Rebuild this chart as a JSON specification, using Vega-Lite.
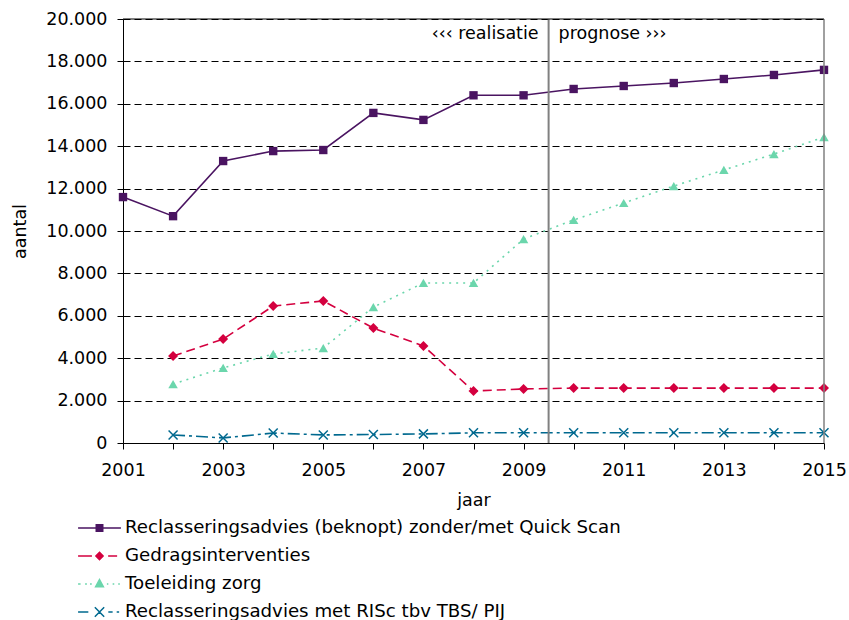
{
  "$schema": "https://vega.github.io/schema/vega-lite/v6.json",
  "width": 701,
  "height": 424,
  "autosize": {"type": "none"},
  "padding": {"left": 123, "top": 19, "right": 25, "bottom": 177},
  "background": "white",
  "config": {
    "font": "DejaVu Sans",
    "view": {"stroke": null},
    "axis": {"labelFont": "DejaVu Sans", "titleFont": "DejaVu Sans", "labelFontSize": 17.5, "titleFontSize": 17.5, "titleFontWeight": "normal", "labelColor": "#000", "titleColor": "#000", "domainColor": "#000", "tickColor": "#000"},
    "legend": {"labelFont": "DejaVu Sans", "labelFontSize": 18.2, "labelColor": "#000", "orient": "none", "legendX": -42.5, "legendY": 490, "padding": 0, "symbolSize": 1296, "symbolStrokeWidth": 1.5, "symbolOpacity": 1, "rowPadding": 0, "labelLimit": 800, "labelOffset": 6.5}
  },
  "data": {"values": [
    {"jaar": 2001, "reeks": "Reclasseringsadvies (beknopt) zonder/met Quick Scan", "aantal": 11600},
    {"jaar": 2002, "reeks": "Reclasseringsadvies (beknopt) zonder/met Quick Scan", "aantal": 10700},
    {"jaar": 2003, "reeks": "Reclasseringsadvies (beknopt) zonder/met Quick Scan", "aantal": 13300},
    {"jaar": 2004, "reeks": "Reclasseringsadvies (beknopt) zonder/met Quick Scan", "aantal": 13770},
    {"jaar": 2005, "reeks": "Reclasseringsadvies (beknopt) zonder/met Quick Scan", "aantal": 13820},
    {"jaar": 2006, "reeks": "Reclasseringsadvies (beknopt) zonder/met Quick Scan", "aantal": 15570},
    {"jaar": 2007, "reeks": "Reclasseringsadvies (beknopt) zonder/met Quick Scan", "aantal": 15240},
    {"jaar": 2008, "reeks": "Reclasseringsadvies (beknopt) zonder/met Quick Scan", "aantal": 16400},
    {"jaar": 2009, "reeks": "Reclasseringsadvies (beknopt) zonder/met Quick Scan", "aantal": 16400},
    {"jaar": 2010, "reeks": "Reclasseringsadvies (beknopt) zonder/met Quick Scan", "aantal": 16700},
    {"jaar": 2011, "reeks": "Reclasseringsadvies (beknopt) zonder/met Quick Scan", "aantal": 16840},
    {"jaar": 2012, "reeks": "Reclasseringsadvies (beknopt) zonder/met Quick Scan", "aantal": 16980},
    {"jaar": 2013, "reeks": "Reclasseringsadvies (beknopt) zonder/met Quick Scan", "aantal": 17170},
    {"jaar": 2014, "reeks": "Reclasseringsadvies (beknopt) zonder/met Quick Scan", "aantal": 17360},
    {"jaar": 2015, "reeks": "Reclasseringsadvies (beknopt) zonder/met Quick Scan", "aantal": 17600},
    {"jaar": 2002, "reeks": "Gedragsinterventies", "aantal": 4100},
    {"jaar": 2003, "reeks": "Gedragsinterventies", "aantal": 4900},
    {"jaar": 2004, "reeks": "Gedragsinterventies", "aantal": 6460},
    {"jaar": 2005, "reeks": "Gedragsinterventies", "aantal": 6700},
    {"jaar": 2006, "reeks": "Gedragsinterventies", "aantal": 5420},
    {"jaar": 2007, "reeks": "Gedragsinterventies", "aantal": 4580},
    {"jaar": 2008, "reeks": "Gedragsinterventies", "aantal": 2450},
    {"jaar": 2009, "reeks": "Gedragsinterventies", "aantal": 2550},
    {"jaar": 2010, "reeks": "Gedragsinterventies", "aantal": 2590},
    {"jaar": 2011, "reeks": "Gedragsinterventies", "aantal": 2590},
    {"jaar": 2012, "reeks": "Gedragsinterventies", "aantal": 2590},
    {"jaar": 2013, "reeks": "Gedragsinterventies", "aantal": 2590},
    {"jaar": 2014, "reeks": "Gedragsinterventies", "aantal": 2590},
    {"jaar": 2015, "reeks": "Gedragsinterventies", "aantal": 2590},
    {"jaar": 2002, "reeks": "Toeleiding zorg", "aantal": 2780},
    {"jaar": 2003, "reeks": "Toeleiding zorg", "aantal": 3540},
    {"jaar": 2004, "reeks": "Toeleiding zorg", "aantal": 4200},
    {"jaar": 2005, "reeks": "Toeleiding zorg", "aantal": 4480},
    {"jaar": 2006, "reeks": "Toeleiding zorg", "aantal": 6410},
    {"jaar": 2007, "reeks": "Toeleiding zorg", "aantal": 7550},
    {"jaar": 2008, "reeks": "Toeleiding zorg", "aantal": 7550},
    {"jaar": 2009, "reeks": "Toeleiding zorg", "aantal": 9620},
    {"jaar": 2010, "reeks": "Toeleiding zorg", "aantal": 10520},
    {"jaar": 2011, "reeks": "Toeleiding zorg", "aantal": 11320},
    {"jaar": 2012, "reeks": "Toeleiding zorg", "aantal": 12120},
    {"jaar": 2013, "reeks": "Toeleiding zorg", "aantal": 12880},
    {"jaar": 2014, "reeks": "Toeleiding zorg", "aantal": 13630},
    {"jaar": 2015, "reeks": "Toeleiding zorg", "aantal": 14430},
    {"jaar": 2002, "reeks": "Reclasseringsadvies met RISc tbv TBS/ PIJ", "aantal": 380},
    {"jaar": 2003, "reeks": "Reclasseringsadvies met RISc tbv TBS/ PIJ", "aantal": 240},
    {"jaar": 2004, "reeks": "Reclasseringsadvies met RISc tbv TBS/ PIJ", "aantal": 470},
    {"jaar": 2005, "reeks": "Reclasseringsadvies met RISc tbv TBS/ PIJ", "aantal": 380},
    {"jaar": 2006, "reeks": "Reclasseringsadvies met RISc tbv TBS/ PIJ", "aantal": 400},
    {"jaar": 2007, "reeks": "Reclasseringsadvies met RISc tbv TBS/ PIJ", "aantal": 430},
    {"jaar": 2008, "reeks": "Reclasseringsadvies met RISc tbv TBS/ PIJ", "aantal": 480},
    {"jaar": 2009, "reeks": "Reclasseringsadvies met RISc tbv TBS/ PIJ", "aantal": 480},
    {"jaar": 2010, "reeks": "Reclasseringsadvies met RISc tbv TBS/ PIJ", "aantal": 480},
    {"jaar": 2011, "reeks": "Reclasseringsadvies met RISc tbv TBS/ PIJ", "aantal": 480},
    {"jaar": 2012, "reeks": "Reclasseringsadvies met RISc tbv TBS/ PIJ", "aantal": 480},
    {"jaar": 2013, "reeks": "Reclasseringsadvies met RISc tbv TBS/ PIJ", "aantal": 480},
    {"jaar": 2014, "reeks": "Reclasseringsadvies met RISc tbv TBS/ PIJ", "aantal": 480},
    {"jaar": 2015, "reeks": "Reclasseringsadvies met RISc tbv TBS/ PIJ", "aantal": 480}
  ]},
  "encoding": {
    "x": {"field": "jaar", "type": "quantitative", "scale": {"domain": [2001, 2015], "nice": false, "zero": false},
      "axis": {"title": "jaar", "values": [2001,2002,2003,2004,2005,2006,2007,2008,2009,2010,2011,2012,2013,2014,2015], "labelExpr": "datum.value % 2 == 1 ? datum.value : ''", "grid": false, "tickSize": 6, "labelPadding": 12, "titlePadding": 13, "labelFlush": false}},
    "y": {"field": "aantal", "type": "quantitative", "scale": {"domain": [0, 20000], "nice": false},
      "axis": {"title": "aantal", "values": [0,2000,4000,6000,8000,10000,12000,14000,16000,18000,20000], "labelExpr": "replace(format(datum.value, ','), ',', '.')", "grid": true, "gridColor": "#000", "gridDash": [7, 4], "gridOpacity": 1, "tickSize": 6, "labelPadding": 10, "titlePadding": 16}}
  },
  "layer": [
    {
      "transform": [{"filter": "datum.reeks == 'Reclasseringsadvies (beknopt) zonder/met Quick Scan'"}],
      "mark": {"type": "line", "strokeWidth": 1.6, "color": "#4A1461", "point": {"shape": "square", "filled": true, "size": 70, "color": "#4A1461", "opacity": 1}}
    },
    {
      "transform": [{"filter": "datum.reeks == 'Gedragsinterventies'"}],
      "mark": {"type": "line", "strokeWidth": 1.6, "color": "#D4003F", "strokeDash": [9, 5], "point": {"shape": "diamond", "filled": true, "size": 100, "color": "#D4003F", "opacity": 1}}
    },
    {
      "transform": [{"filter": "datum.reeks == 'Toeleiding zorg'"}],
      "mark": {"type": "line", "strokeWidth": 1.6, "color": "#6BD6AC", "strokeDash": [2, 5], "point": {"shape": "triangle-up", "filled": true, "size": 90, "color": "#6BD6AC", "opacity": 1}}
    },
    {
      "transform": [{"filter": "datum.reeks == 'Reclasseringsadvies met RISc tbv TBS/ PIJ'"}],
      "mark": {"type": "line", "strokeWidth": 1.6, "color": "#00698F", "strokeDash": [12, 4, 3, 4], "point": {"shape": "M-1,-1L1,1M-1,1L1,-1", "filled": false, "size": 81, "strokeWidth": 1.5, "color": "#00698F", "opacity": 1}}
    },
    {
      "transform": [{"filter": "datum.jaar > 3000"}],
      "mark": {"type": "point", "filled": true, "opacity": 1, "size": 1296, "strokeWidth": 1.5},
      "encoding": {
        "fill": {"field": "reeks", "type": "nominal",
          "scale": {"domain": ["Reclasseringsadvies (beknopt) zonder/met Quick Scan", "Gedragsinterventies", "Toeleiding zorg", "Reclasseringsadvies met RISc tbv TBS/ PIJ"], "range": ["#4A1461", "#D4003F", "#6BD6AC", "#00698F"]},
          "legend": {"title": null}},
        "stroke": {"field": "reeks", "type": "nominal",
          "scale": {"domain": ["Reclasseringsadvies (beknopt) zonder/met Quick Scan", "Gedragsinterventies", "Toeleiding zorg", "Reclasseringsadvies met RISc tbv TBS/ PIJ"], "range": ["#4A1461", "#D4003F", "#6BD6AC", "#00698F"]},
          "legend": {"title": null}},
        "shape": {"field": "reeks", "type": "nominal",
          "scale": {"domain": ["Reclasseringsadvies (beknopt) zonder/met Quick Scan", "Gedragsinterventies", "Toeleiding zorg", "Reclasseringsadvies met RISc tbv TBS/ PIJ"],
            "range": ["M-1.19,0H1.19M-0.18,-0.18H0.18V0.18H-0.18Z", "M-1.19,0H-0.42M0.48,0H0.98M0,-0.2L0.2,0L0,0.2L-0.2,0Z", "M-1.19,0H-1.05M-0.8,0H-0.7M-0.525,0H-0.43M0.41,0H0.49M0.73,0H0.82M1.04,0H1.13M0,-0.24L0.215,0.155L-0.215,0.155Z", "M-1.19,0H-0.62M0.49,0H0.73M0.955,0H1.09M-0.26,-0.26L0.26,0.26M-0.26,0.26L0.26,-0.26"]},
          "legend": {"title": null}}
      }
    },
    {
      "data": {"values": [{"jaar": 2009.5, "van": 0, "tot": 20000}]},
      "mark": {"type": "rule", "color": "#808080", "strokeWidth": 2},
      "encoding": {"x": {"field": "jaar", "type": "quantitative"}, "y": {"field": "van", "type": "quantitative"}, "y2": {"field": "tot"}}
    },
    {
      "data": {"values": [{"jaar": 2015, "van": 0, "tot": 20000}]},
      "mark": {"type": "rule", "color": "#808080", "strokeWidth": 1.5},
      "encoding": {"x": {"field": "jaar", "type": "quantitative"}, "y": {"field": "van", "type": "quantitative"}, "y2": {"field": "tot"}}
    },
    {
      "data": {"values": [{"begin": 2001, "eind": 2015, "aantal": 20000}]},
      "mark": {"type": "rule", "color": "#000", "strokeWidth": 1.2},
      "encoding": {"x": {"field": "begin", "type": "quantitative"}, "x2": {"field": "eind"}, "y": {"field": "aantal", "type": "quantitative"}}
    },
    {
      "data": {"values": [{"jaar": 2009.5, "aantal": 19300, "tekst": "‹‹‹ realisatie"}]},
      "mark": {"type": "text", "align": "right", "baseline": "middle", "dx": -10, "fontSize": 17.5, "font": "DejaVu Sans", "color": "#000"},
      "encoding": {"text": {"field": "tekst"}}
    },
    {
      "data": {"values": [{"jaar": 2009.5, "aantal": 19300, "tekst": "prognose ›››"}]},
      "mark": {"type": "text", "align": "left", "baseline": "middle", "dx": 10, "fontSize": 17.5, "font": "DejaVu Sans", "color": "#000"},
      "encoding": {"text": {"field": "tekst"}}
    }
  ]
}
